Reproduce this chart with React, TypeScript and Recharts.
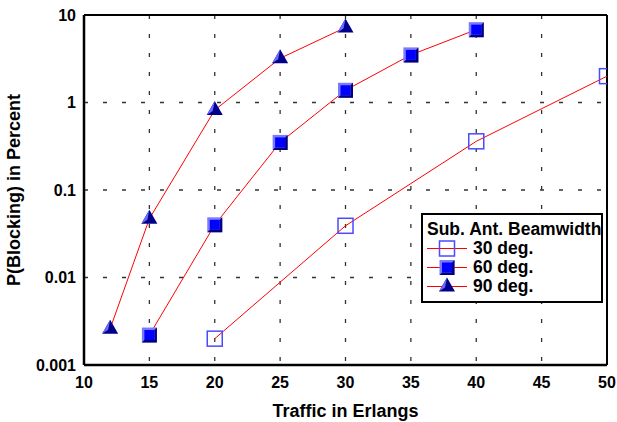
import React from 'react';
import { LineChart, Line, XAxis, YAxis, CartesianGrid, ReferenceLine, Label } from 'recharts';

// traffic (Erlangs) and blocking probability (%) per beamwidth
const traffic30 = [20, 30, 40, 50];
const blocking30 = [0.002, 0.039, 0.36, 2.0];
const traffic60 = [15, 20, 25, 30, 35, 40];
const blocking60 = [0.0022, 0.04, 0.35, 1.38, 3.5, 6.8];
const traffic90 = [12, 15, 20, 25, 30];
const blocking90 = [0.0026, 0.047, 0.82, 3.2, 7.2];

const xTicks = [10, 15, 20, 25, 30, 35, 40, 45, 50];
const xMinorTicks = Array.from({ length: 41 }, (_, i) => 10 + i);
const yTicks = [0.001, 0.01, 0.1, 1, 10];
const yMinorTicks = [0.001, 0.01, 0.1, 1].flatMap(d => [2, 3, 4, 5, 6, 7, 8, 9].map(m => +(d * m).toPrecision(2)));

const legendTitle = 'Sub. Ant. Beamwidth';
const seriesNames = ['30 deg.', '60 deg.', '90 deg.'];

const toPoints = (xs: number[], ys: number[]) => xs.map((x, i) => ({ x, y: ys[i] }));
const data30 = toPoints(traffic30, blocking30);
const data60 = toPoints(traffic60, blocking60);
const data90 = toPoints(traffic90, blocking90);

const FONT = '"Liberation Sans", Arial, sans-serif';

const OpenSquare = ({ cx, cy }: any) => (
  <rect x={cx - 7.5} y={cy - 7.5} width={15} height={15} fill="none" stroke="#4a4aff" strokeWidth={1.5} />
);

const FilledSquare = ({ cx, cy }: any) => {
  const x = cx - 7.5;
  const y = cy - 7.5;
  return (
    <g>
      <rect x={x} y={y} width={15} height={15} fill="#7a7aff" />
      <polygon
        points={`${x + 15},${y} ${x + 15},${y + 15} ${x},${y + 15} ${x + 2.5},${y + 12.5} ${x + 12.5},${y + 12.5} ${x + 12.5},${y + 2.5}`}
        fill="#00007a"
      />
      <rect x={x + 2.5} y={y + 2.5} width={10} height={10} fill="#0000ff" />
    </g>
  );
};

const Triangle = ({ cx, cy }: any) => (
  <g>
    <polygon points={`${cx},${cy - 9} ${cx - 8},${cy + 5} ${cx + 8},${cy + 5}`} fill="#00008c" />
    <polygon points={`${cx},${cy - 9} ${cx - 8},${cy + 5} ${cx - 2},${cy + 1}`} fill="#6a6aff" />
  </g>
);

const markers = [OpenSquare, FilledSquare, Triangle];

const LegendBox = () => (
  <div
    style={{
      position: 'absolute',
      left: 421,
      top: 213,
      width: 178,
      height: 86,
      border: '2px solid #000',
      background: '#fff',
      fontFamily: FONT,
      fontWeight: 'bold',
      fontSize: 17.5,
      color: '#000',
      whiteSpace: 'nowrap',
      overflow: 'hidden',
    }}
  >
    <div style={{ position: 'absolute', left: 4, top: 5, lineHeight: '19px' }}>{legendTitle}</div>
    {seriesNames.map((name, i) => {
      const Marker = markers[i];
      return (
        <div key={name} style={{ position: 'absolute', left: 4, top: 24 + i * 19, height: 19, display: 'flex', alignItems: 'center' }}>
          <svg width={42} height={19} style={{ display: 'block' }}>
            <line x1={0} y1={9.5} x2={40} y2={9.5} stroke="#ff0000" strokeWidth={1} />
            <Marker cx={20} cy={9.5} />
          </svg>
          <span style={{ marginLeft: 4, lineHeight: '19px' }}>{name}</span>
        </div>
      );
    })}
  </div>
);

const tickStyle = { fill: '#000', fontSize: 16, fontWeight: 'bold', fontFamily: FONT };
const titleStyle = { fill: '#000', fontSize: 18, fontWeight: 'bold', fontFamily: FONT, textAnchor: 'middle' as const };

export default function App() {
  return (
    <div style={{ position: 'absolute', left: 0, top: 0, width: 617, height: 422, background: '#fff' }}>
      <LineChart width={617} height={422} margin={{ top: 15, right: 10, left: 0, bottom: 0 }}>
        <CartesianGrid xAxisId="main" yAxisId="main" stroke="#333" strokeWidth={1.3} strokeDasharray="4 15" />
        <XAxis
          xAxisId="main"
          dataKey="x"
          type="number"
          domain={[10, 50]}
          ticks={xTicks}
          allowDataOverflow
          height={57}
          tickLine={false}
          tickSize={6}
          tickMargin={6}
          axisLine={{ stroke: '#000', strokeWidth: 2.5 }}
          tick={tickStyle}
        >
          <Label value="Traffic in Erlangs" position="insideBottom" offset={5} style={titleStyle} />
        </XAxis>
        <XAxis xAxisId="major" mirror type="number" domain={[10, 50]} ticks={xTicks} allowDataOverflow height={10} tick={false} tickSize={6} axisLine={false} tickLine={{ stroke: '#000', strokeWidth: 1.5 }} />
        <XAxis xAxisId="minor" mirror type="number" domain={[10, 50]} ticks={xMinorTicks} allowDataOverflow height={10} tick={false} tickSize={4} axisLine={false} tickLine={{ stroke: '#000', strokeWidth: 1.2 }} />
        <YAxis
          yAxisId="main"
          scale="log"
          type="number"
          domain={[0.001, 10]}
          ticks={yTicks}
          allowDataOverflow
          width={84}
          tickLine={false}
          tickSize={6}
          tickMargin={2}
          axisLine={{ stroke: '#000', strokeWidth: 2.5 }}
          tick={tickStyle}
          tickFormatter={(v: number) => String(v)}
        >
          <Label value="P(Blocking) in Percent" angle={-90} position="insideLeft" offset={14} style={titleStyle} />
        </YAxis>
        <YAxis yAxisId="major" mirror scale="log" type="number" domain={[0.001, 10]} ticks={yTicks} allowDataOverflow width={10} tick={false} tickSize={6} axisLine={false} tickLine={{ stroke: '#000', strokeWidth: 1.5 }} />
        <YAxis yAxisId="minor" mirror scale="log" type="number" domain={[0.001, 10]} ticks={yMinorTicks} allowDataOverflow width={10} tick={false} tickSize={4} axisLine={false} tickLine={{ stroke: '#000', strokeWidth: 1.2 }} />
        <ReferenceLine xAxisId="main" yAxisId="main" y={10} stroke="#000" strokeWidth={2} />
        <ReferenceLine xAxisId="main" yAxisId="main" x={50} stroke="#000" strokeWidth={2} />
        <Line
          xAxisId="main"
          yAxisId="main"
          data={data30}
          dataKey="y"
          name={seriesNames[0]}
          stroke="#ff0000"
          strokeWidth={1}
          isAnimationActive={false}
          dot={(p: any) => <OpenSquare key={`d30-${p.index}`} cx={p.cx} cy={p.cy} />}
          activeDot={false}
        />
        <Line
          xAxisId="main"
          yAxisId="main"
          data={data60}
          dataKey="y"
          name={seriesNames[1]}
          stroke="#ff0000"
          strokeWidth={1}
          isAnimationActive={false}
          dot={(p: any) => <FilledSquare key={`d60-${p.index}`} cx={p.cx} cy={p.cy} />}
          activeDot={false}
        />
        <Line
          xAxisId="main"
          yAxisId="main"
          data={data90}
          dataKey="y"
          name={seriesNames[2]}
          stroke="#ff0000"
          strokeWidth={1}
          isAnimationActive={false}
          dot={(p: any) => <Triangle key={`d90-${p.index}`} cx={p.cx} cy={p.cy} />}
          activeDot={false}
        />
      </LineChart>
      <LegendBox />
    </div>
  );
}
